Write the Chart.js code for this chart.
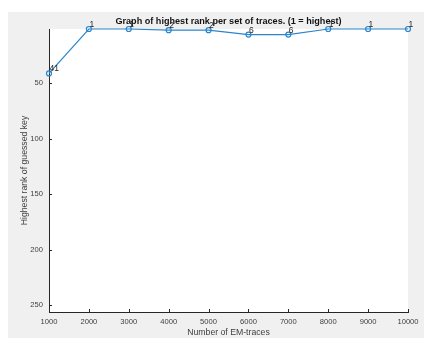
<!DOCTYPE html>
<html>
<head>
<meta charset="utf-8">
<script src="https://cdn.jsdelivr.net/npm/chart.js@4.4.1/dist/chart.umd.min.js"></script>
<style>
  html, body { margin: 0; padding: 0; background: #ffffff; }
  #wrap { width: 424px; height: 338px; }
</style>
</head>
<body>
<div id="wrap"><canvas id="c" width="424" height="338"></canvas></div>
<script>
// Number of EM traces used per attack run
const traceCounts = [1000, 2000, 3000, 4000, 5000, 6000, 7000, 8000, 9000, 10000];
// Highest rank reached by the correct key guess for each run (1 = best)
const bestRank = [41, 1, 1, 2, 2, 6, 6, 1, 1, 1];
// Axis ticks
const xTicks = [1000, 2000, 3000, 4000, 5000, 6000, 7000, 8000, 9000, 10000];
const yTicks = [50, 100, 150, 200, 250];

const AXIS_COLOR = '#262626';
const LINE_COLOR = '#2a85cb';
const FONT = 'Liberation Sans, Arial, Helvetica, sans-serif';

// Figure background, grey panel and white axes box
const panelBackground = {
  id: 'panelBackground',
  beforeDraw(chart) {
    const { ctx, chartArea: a, width, height } = chart;
    ctx.save();
    ctx.fillStyle = '#ffffff';
    ctx.fillRect(0, 0, width, height);
    ctx.fillStyle = '#f0f0f0';
    ctx.fillRect(8, 12, width - 8, height - 12);
    ctx.fillStyle = '#ffffff';
    ctx.fillRect(a.left, a.top, a.right - a.left, a.bottom - a.top);
    ctx.restore();
  }
};

// Tick marks pointing into the axes box
const inwardTicks = {
  id: 'inwardTicks',
  afterDraw(chart) {
    const { ctx, chartArea: a, scales } = chart;
    ctx.save();
    ctx.strokeStyle = AXIS_COLOR;
    ctx.lineWidth = 1;
    ctx.beginPath();
    xTicks.forEach(v => {
      const x = Math.round(scales.x.getPixelForValue(v)) + 0.5;
      ctx.moveTo(x, a.bottom);
      ctx.lineTo(x, a.bottom - 3);
    });
    yTicks.forEach(v => {
      const y = Math.round(scales.y.getPixelForValue(v)) + 0.5;
      ctx.moveTo(a.left, y);
      ctx.lineTo(a.left + 3, y);
    });
    ctx.stroke();
    ctx.restore();
  }
};

// Rank value written beside each marker
const pointValues = {
  id: 'pointValues',
  afterDatasetsDraw(chart) {
    const { ctx } = chart;
    const meta = chart.getDatasetMeta(0);
    ctx.save();
    ctx.fillStyle = AXIS_COLOR;
    ctx.font = '8.5px ' + FONT;
    ctx.textAlign = 'left';
    ctx.textBaseline = 'alphabetic';
    meta.data.forEach((pt, i) => {
      ctx.fillText(String(bestRank[i]), pt.x + 0.5, pt.y - 2);
    });
    ctx.restore();
  }
};

new Chart(document.getElementById('c'), {
  type: 'line',
  data: {
    labels: traceCounts,
    datasets: [{
      data: traceCounts.map((x, i) => ({ x: x, y: bestRank[i] })),
      borderColor: LINE_COLOR,
      borderWidth: 1.2,
      pointStyle: 'circle',
      pointRadius: 2.5,
      pointBorderWidth: 1.2,
      pointBorderColor: LINE_COLOR,
      pointBackgroundColor: 'rgba(0,0,0,0)',
      tension: 0,
      clip: false
    }]
  },
  options: {
    responsive: false,
    animation: false,
    devicePixelRatio: 1,
    layout: { padding: { left: 0, right: 16, top: 0, bottom: 0 } },
    plugins: {
      legend: { display: false },
      tooltip: { enabled: false },
      title: {
        display: true,
        fullSize: false,
        text: 'Graph of highest rank per set of traces. (1 = highest)',
        color: '#111111',
        font: { family: FONT, size: 9.1, weight: 'bold', lineHeight: 1.2 },
        padding: { top: 16.5, bottom: 1.6 }
      }
    },
    scales: {
      x: {
        type: 'linear',
        min: 1000,
        max: 10000,
        afterFit(scale) { scale.height = 26; },
        afterBuildTicks(scale) { scale.ticks = xTicks.map(v => ({ value: v })); },
        grid: { display: true, drawOnChartArea: false, drawTicks: false },
        border: { display: true, color: AXIS_COLOR, width: 1 },
        ticks: {
          color: '#404040',
          padding: 5,
          maxRotation: 0,
          autoSkip: false,
          font: { family: FONT, size: 7.6 },
          callback: v => String(v)
        },
        title: {
          display: true,
          text: 'Number of EM-traces',
          color: '#404040',
          font: { family: FONT, size: 8.7 },
          padding: { top: 0, bottom: 0 }
        }
      },
      y: {
        type: 'linear',
        reverse: true,
        min: 1,
        max: 256,
        afterFit(scale) { scale.width = 49; },
        afterBuildTicks(scale) { scale.ticks = yTicks.map(v => ({ value: v })); },
        grid: { display: true, drawOnChartArea: false, drawTicks: false },
        border: { display: true, color: AXIS_COLOR, width: 1 },
        ticks: {
          color: '#404040',
          padding: 6,
          autoSkip: false,
          font: { family: FONT, size: 7.6 },
          callback: v => String(v)
        },
        title: {
          display: true,
          text: 'Highest rank of guessed key',
          color: '#404040',
          font: { family: FONT, size: 8.7 },
          padding: { top: 19.5, bottom: 0 }
        }
      }
    }
  },
  plugins: [panelBackground, inwardTicks, pointValues]
});
</script>
</body>
</html>
